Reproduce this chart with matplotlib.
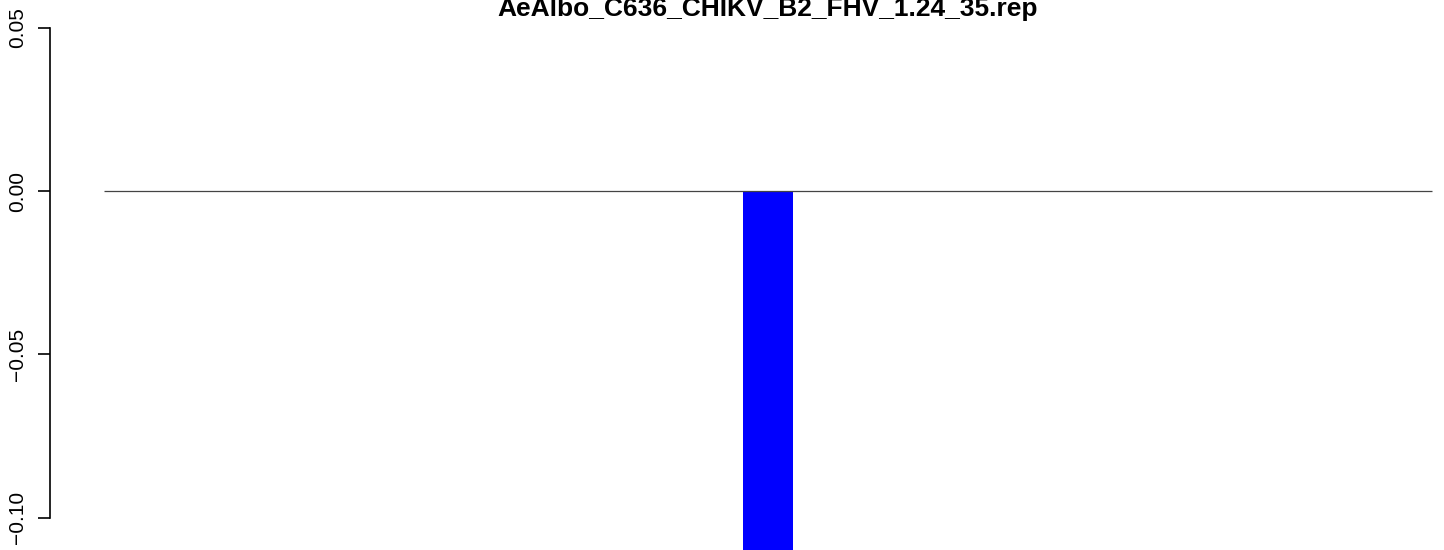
import matplotlib
matplotlib.use("Agg")
import matplotlib.pyplot as plt

plt.rcParams["font.family"] = ["Liberation Sans", "DejaVu Sans"]

# data
title = "AeAlbo_C636_CHIKV_B2_FHV_1.24_35.rep"
bar_pos = [0]
bar_vals = [-0.115]
yticks = [-0.10, -0.05, 0.00, 0.05]
ytick_labels = ["\u22120.10", "\u22120.05", "0.00", "0.05"]
xlim = (-14.36, 13.52)
zero_line = (-13.28, 13.28)
ylim = (-0.1099, 0.0524)

W, H = 1444, 550
fig = plt.figure(figsize=(W / 100, H / 100), dpi=100)
ax = fig.add_axes([50 / W, 0, (W - 50) / W, (H - 20) / H])

ax.bar(bar_pos, bar_vals, width=1.0, color="#0000ff", linewidth=0)
ax.hlines(0, zero_line[0], zero_line[1], color="#444444", linewidth=0.9)

ax.set_xlim(*xlim)
ax.set_ylim(*ylim)
for s in ["top", "right", "bottom"]:
    ax.spines[s].set_visible(False)
ax.spines["left"].set_bounds(yticks[0], yticks[-1])
ax.spines["left"].set_linewidth(1.2)
ax.set_xticks([])
ax.set_yticks(yticks)
ax.set_yticklabels(ytick_labels, rotation=90, va="center", fontsize=15)
ax.tick_params(axis="y", length=8.6, width=1.2, pad=8)

fig.text(768 / W, 1 - 16 / H, title, ha="center", va="baseline",
         fontsize=19, fontweight="bold")

fig.savefig("out.png", dpi=100)
